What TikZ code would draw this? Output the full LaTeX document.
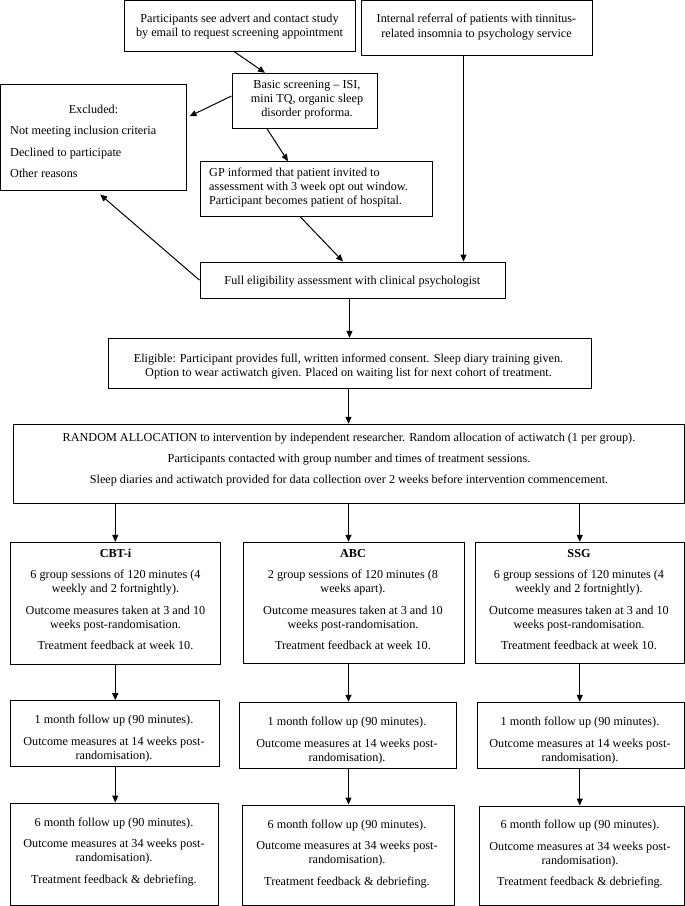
\documentclass[tikz,border=0pt]{standalone}
\usepackage{fontspec}
\setmainfont{Liberation Serif}
\usetikzlibrary{arrows.meta,fit}
\newcommand\fsz{\fontsize{12.2}{14}\selectfont}
\begin{document}
\begin{tikzpicture}[x=1pt,y=-1pt,
  box/.style={draw, line width=1pt, inner sep=0pt},
  txt/.style={inner sep=0pt, align=center, font=\fsz, execute at begin node=\strut, execute at end node=\strut},
  ltxt/.style={txt, align=left, anchor=west},
  arr/.style={line width=1pt, -{Triangle[length=7pt,width=6pt]}}]
\useasboundingbox (0,0) rectangle (685,906);
% boxes
\node[box, fit={(124,0.5) (355,51)}] (A) {};
\node[box, fit={(361,0.5) (592,55.5)}] (B) {};
\node[box, fit={(232,73.3) (377,128.3)}] (C) {};
\node[box, fit={(0.5,84) (186,190.5)}] (E) {};
\node[box, fit={(200,161.7) (432,216)}] (G) {};
\node[box, fit={(200,262) (505,298.3)}] (F) {};
\node[box, fit={(108,338.3) (591,388.3)}] (L) {};
\node[box, fit={(13,424.3) (684,503)}] (R) {};
\node[box, fit={(10,542.3) (220.5,664.3)}] (T1) {};
\node[box, fit={(243,542.3) (464,663.3)}] (A1) {};
\node[box, fit={(475,542.3) (684.5,663.3)}] (S1) {};
\node[box, fit={(10,700.7) (219,766.5)}] (T2) {};
\node[box, fit={(239,702.3) (456,768.7)}] (A2) {};
\node[box, fit={(477,702.3) (684.5,768.7)}] (S2) {};
\node[box, fit={(10,803) (218,905.5)}] (T3) {};
\node[box, fit={(242,805) (454,905.5)}] (A3) {};
\node[box, fit={(479,806) (684.5,905.5)}] (S3) {};
% texts
\node[txt] (At) at (239.5,27.8) {Participants see advert and contact study\\by email to request screening appointment};
\node[txt] (Bt) at (476.5,27.8) {Internal referral of patients with tinnitus-\\related insomnia to psychology service};
\node[txt] (Ct) at (307,100.65) {Basic screening -- ISI,\\mini TQ, organic sleep\\disorder proforma.};
\node[txt] (Et) at (93.5,110.8) {Excluded:};
\node[ltxt] (El) at (10,154.3) {Not meeting inclusion criteria\\[7.5pt]Declined to participate\\[7.5pt]Other reasons};
\node[ltxt] (Gt) at (209,188.65) {GP informed that patient invited to\\assessment with 3 week opt out window.\\Participant becomes patient of hospital.};
\node[txt] (Ft) at (352.4,281.8) {Full eligibility assessment with clinical psychologist};
\node[txt] (Lt) at (348.5,367.1) {Eligible: Participant provides full, written informed consent. Sleep diary training given.\\Option to wear actiwatch given. Placed on waiting list for next cohort of treatment.};
\node[txt] (Rt) at (349,459.95) {RANDOM ALLOCATION to intervention by independent researcher. Random allocation of actiwatch (1 per group).\\[7pt]Participants contacted with group number and times of treatment sessions.\\[7pt]Sleep diaries and actiwatch provided for data collection over 2 weeks before intervention commencement.};
\node[txt] (T1t) at (115.5,601.45) {\textbf{CBT-i}\\[7.5pt]6 group sessions of 120 minutes (4\\weekly and 2 fortnightly).\\[7.5pt]Outcome measures taken at 3 and 10\\weeks post-randomisation.\\[7.5pt]Treatment feedback at week 10.};
\node[txt] (A1t) at (353,601.45) {\textbf{ABC}\\[7.5pt]2 group sessions of 120 minutes (8\\weeks apart).\\[7.5pt]Outcome measures taken at 3 and 10\\weeks post-randomisation.\\[7.5pt]Treatment feedback at week 10.};
\node[txt] (S1t) at (579,601.45) {\textbf{SSG}\\[7.5pt]6 group sessions of 120 minutes (4\\weekly and 2 fortnightly).\\[7.5pt]Outcome measures taken at 3 and 10\\weeks post-randomisation.\\[7.5pt]Treatment feedback at week 10.};
\node[txt] (T2t) at (114,739.5) {1 month follow up (90 minutes).\\[7.5pt]Outcome measures at 14 weeks post-\\randomisation).};
\node[txt] (A2t) at (347,741.1) {1 month follow up (90 minutes).\\[7.5pt]Outcome measures at 14 weeks post-\\randomisation).};
\node[txt] (S2t) at (580,741.2) {1 month follow up (90 minutes).\\[7.5pt]Outcome measures at 14 weeks post-\\randomisation).};
\node[txt] (T3t) at (114,852.45) {6 month follow up (90 minutes).\\[7.5pt]Outcome measures at 34 weeks post-\\randomisation).\\[7.5pt]Treatment feedback \& debriefing.};
\node[txt] (A3t) at (347,854.3) {6 month follow up (90 minutes).\\[7.5pt]Outcome measures at 34 weeks post-\\randomisation).\\[7.5pt]Treatment feedback \& debriefing.};
\node[txt] (S3t) at (580,855) {6 month follow up (90 minutes).\\[7.5pt]Outcome measures at 34 weeks post-\\randomisation).\\[7.5pt]Treatment feedback \& debriefing.};
% arrows
\draw[arr] ([xshift=-5.5pt]A.south) -- ([xshift=-39.5pt]C.north);
\draw[arr] ([yshift=4.8pt]C.west) -- ([xshift=3pt,yshift=21pt]E.east);
\draw[arr] ([xshift=-37.5pt]C.south) -- ([xshift=-28pt]G.north);
\draw[arr] ([xshift=-16pt]G.south) -- ([xshift=-9.5pt]F.north);
\draw[arr] ([xshift=-13pt]B.south) -- ([xshift=111pt]F.north);
\draw[arr] (F.west) -- ([xshift=7pt,yshift=-3.5pt]E.south);
\draw[arr] (F.south -| L.north) -- (L.north);
\draw[arr] (L.south -| R.north) -- (R.north);
\draw[arr] (R.south -| T1.north) -- (T1.north);
\draw[arr] (R.south) -- (R.south |- A1.north);
\draw[arr] (R.south -| S1.north) -- (S1.north);
\draw[arr] (T1.south) -- (T1.south |- T2.north);
\draw[arr] (A1.south -| R.south) -- (A2.north -| R.south);
\draw[arr] (S1.south) -- (S1.south |- S2.north);
\draw[arr] (T2.south -| T1.south) -- (T3.north -| T1.south);
\draw[arr] (A2.south -| R.south) -- (A3.north -| R.south);
\draw[arr] (S2.south -| S1.south) -- (S3.north -| S1.south);
\end{tikzpicture}
\end{document}
